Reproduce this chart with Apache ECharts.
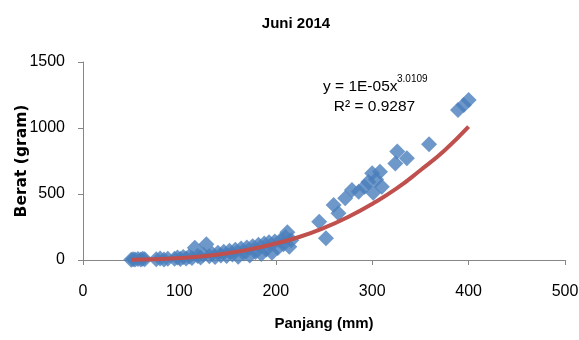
<!DOCTYPE html>
<html>
<head>
<meta charset="utf-8">
<script src="https://cdn.jsdelivr.net/npm/echarts@6/dist/echarts.min.js"></script>
<style>
html,body{margin:0;padding:0;background:#fff;}
#chart{width:579px;height:340px;}
</style>
</head>
<body>
<div id="chart"></div>
<script>
// Measured fish length (mm) and weight (gram)
var lengthMm = [50,52,54,57,60,62,64,76,80,84,88,95,98,101,104,107,110,113,116,119,122,125,128,131,134,137,140,143,146,149,152,155,158,161,164,167,170,173,176,179,182,185,188,190,193,196,199,202,205,208,210,212,214,216,245,252,260,265,272,279,286,292,296,300,301,304,308,310,324,326,336,359,389,395,400];
var weightG  = [2,6,3,8,4,10,5,6,12,4,9,10,18,7,22,12,26,15,92,30,18,40,120,28,48,22,55,35,62,30,70,42,78,25,88,50,95,35,105,60,115,45,125,80,135,55,140,90,150,120,175,210,100,150,290,165,417,355,467,530,517,555,590,657,510,610,669,555,732,822,770,876,1136,1174,1212];
// Power trend line
var trendX = [50,75,100,125,150,175,200,225,250,275,300,325,350,375,400];
var trendY = [2,6,15,29,52,83,125,176,243,326,425,540,680,830,1010];
var xTicks = [0,100,200,300,400,500];
var yTicks = [0,500,1000,1500];

var FONT = "'Liberation Sans',Arial,sans-serif";
var scatterData = lengthMm.map(function(x,i){return [x, weightG[i]];});
var trendData = trendX.map(function(x,i){return [x, trendY[i]];});

var chart = echarts.init(document.getElementById('chart'));
chart.setOption({
  animation:false,
  backgroundColor:'#fff',
  title:{text:'Juni 2014', left:291, top:11, textAlign:'center',
    textStyle:{fontFamily:FONT, fontSize:15, fontWeight:'bold', color:'#000'}},
  grid:{left:83, right:14, top:62, bottom:80, containLabel:false, outerBoundsMode:'none'},
  xAxis:{type:'value', min:xTicks[0], max:xTicks[xTicks.length-1], interval:100,
    name:'Panjang (mm)', nameLocation:'middle', nameGap:56, nameMoveOverlap:false,
    nameTextStyle:{fontFamily:FONT, fontSize:15, fontWeight:'bold', color:'#000'},
    axisLine:{show:true, lineStyle:{color:'#868686', width:1}},
    axisTick:{show:true, inside:false, length:5, lineStyle:{color:'#868686'}},
    axisLabel:{margin:24, fontFamily:FONT, fontSize:16, color:'#000', formatter:function(v){return String(v);}},
    splitLine:{show:false}},
  yAxis:{type:'value', min:yTicks[0], max:yTicks[yTicks.length-1], interval:500,
    name:'Berat (gram)', nameLocation:'middle', nameGap:53, nameRotate:90, nameMoveOverlap:false,
    nameTextStyle:{fontFamily:"'DejaVu Sans',sans-serif", fontSize:15.5, fontWeight:'bold', color:'#000'},
    axisLine:{show:true, lineStyle:{color:'#868686', width:1}},
    axisTick:{show:true, inside:false, length:5, lineStyle:{color:'#868686'}},
    axisLabel:{margin:18, fontFamily:FONT, fontSize:16, color:'#000', formatter:function(v){return String(v);}},
    splitLine:{show:false}},
  series:[
    {type:'scatter', data:scatterData, symbol:'diamond', symbolSize:16,
     itemStyle:{color:'#4a7ebb'}, z:2},
    {type:'line', data:trendData, smooth:true, showSymbol:false, symbol:'none',
     lineStyle:{color:'#c0504d', width:4}, z:3}
  ],
  graphic:[
    {type:'text', x:323, y:87, style:{text:'y = 1E-05x', font:'15.5px '+FONT, fill:'#000', textVerticalAlign:'middle'}},
    {type:'text', x:397, y:79, style:{text:'3.0109', font:'10px '+FONT, fill:'#000', textVerticalAlign:'middle'}},
    {type:'text', x:374.5, y:107, style:{text:'R\u00b2 = 0.9287', font:'15.5px '+FONT, fill:'#000', textAlign:'center', textVerticalAlign:'middle'}}
  ]
});
</script>
</body>
</html>
